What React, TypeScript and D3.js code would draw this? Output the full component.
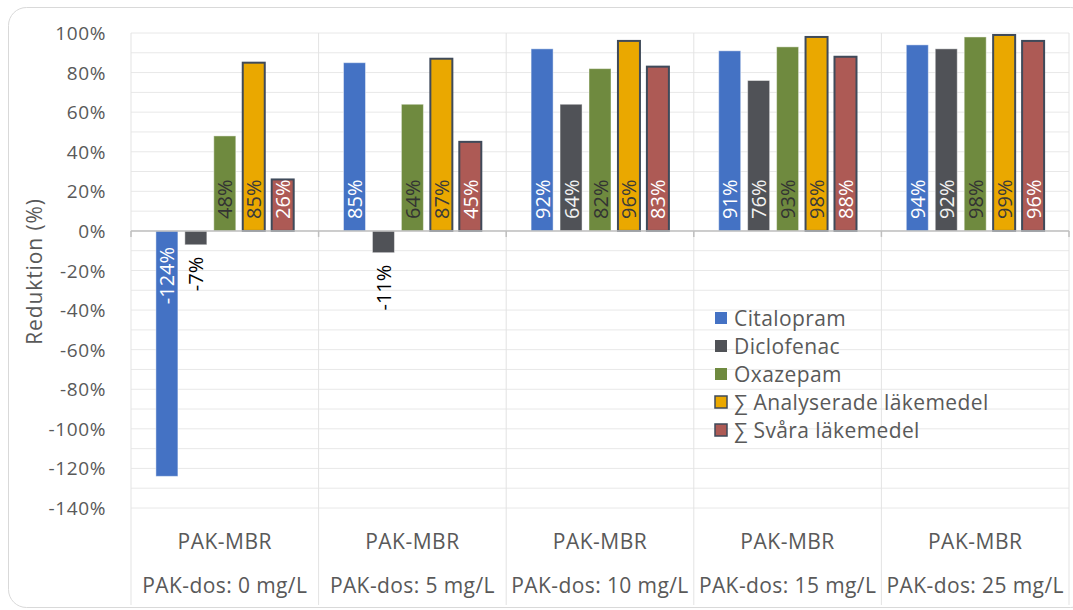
import React from "react";
import * as d3 from "d3";

// Reduction per substance for each PAK dose (percent)
const categories = ["PAK-dos: 0 mg/L", "PAK-dos: 5 mg/L", "PAK-dos: 10 mg/L", "PAK-dos: 15 mg/L", "PAK-dos: 25 mg/L"];
const groupLabel = "PAK-MBR";
const seriesNames = ["Citalopram", "Diclofenac", "Oxazepam", "∑ Analyserade läkemedel", "∑ Svåra läkemedel"];
const citalopram = [-124, 85, 92, 91, 94];
const diclofenac = [-7, -11, 64, 76, 92];
const oxazepam = [48, 64, 82, 93, 98];
const analyserade = [85, 87, 96, 98, 99];
const svara = [26, 45, 83, 88, 96];
const yTicks = [100, 80, 60, 40, 20, 0, -20, -40, -60, -80, -100, -120, -140];

const seriesValues = [citalopram, diclofenac, oxazepam, analyserade, svara];
const fills = ["#4472C4", "#505257", "#6F8A3F", "#EAA800", "#AD5A55"];
const strokes = ["rgba(255,255,255,0.45)", "rgba(255,255,255,0.45)", "rgba(255,255,255,0.45)", "#3F4A5A", "#3F4A5A"];
const strokeW = [1, 1, 1, 2, 2];
const labelColors = ["#ffffff", "#f2f2f2", "#333333", "#3a3a3a", "#ffffff"];

const W = 1073;
const H = 610;
const plot = { left: 131, right: 1069, top: 33, bottom: 508 };
const axisBottom = 605;
const FONT = "'Open Sans', 'Noto Sans', sans-serif";
const TEXT = "#595959";

export default function App() {
  const y = d3.scaleLinear().domain([-140, 100]).range([plot.bottom, plot.top]);
  const x0 = d3.scaleBand<string>().domain(categories).range([plot.left, plot.right]).padding(0);
  const x1 = d3
    .scaleBand<string>()
    .domain(seriesNames)
    .range([0, x0.bandwidth()])
    .paddingInner(0.24)
    .paddingOuter(0.86);
  const y0 = y(0);
  const minorTicks = d3.range(-140, 101, 10);
  const boundaries = [...categories.map((c) => x0(c)!), plot.right];

  return (
    <svg
      width={W}
      height={H}
      style={{ position: "absolute", left: 0, top: 0, background: "#fff" }}
      fontFamily={FONT}
    >
      <rect x={8.5} y={7.5} width={1080} height={600} rx={18} fill="#fff" stroke="#d9d9d9" />

      {/* horizontal gridlines */}
      {minorTicks.map((t) => (
        <line key={"g" + t} x1={plot.left} x2={plot.right} y1={y(t)} y2={y(t)} stroke="#e8e8e8" strokeWidth={1} />
      ))}
      {/* vertical category separators, through plot and category axis */}
      {boundaries.map((bx, i) => (
        <line key={"v" + i} x1={bx} x2={bx} y1={plot.top} y2={axisBottom} stroke="#e3e3e3" strokeWidth={1} />
      ))}

      {/* y tick labels */}
      {yTicks.map((t) => (
        <text
          key={"t" + t}
          x={106}
          y={y(t)}
          textAnchor="end"
          dominantBaseline="central"
          fontSize={19}
          letterSpacing={0.6}
          fill={TEXT}
        >
          {t}%
        </text>
      ))}

      {/* y axis title */}
      <text
        transform={`translate(34,${(plot.top + plot.bottom) / 2 + 1}) rotate(-90)`}
        textAnchor="middle"
        dominantBaseline="central"
        fontSize={21}
        letterSpacing={0.9}
        fill={TEXT}
      >
        Reduktion (%)
      </text>

      {/* bars */}
      {categories.map((c, ci) => (
        <g key={c} transform={`translate(${x0(c)},0)`}>
          {seriesNames.map((s, si) => {
            const v = seriesValues[si][ci];
            const yv = y(v);
            const top = Math.min(yv, y0);
            const h = Math.abs(yv - y0);
            const bx = x1(s)!;
            const bw = x1.bandwidth();
            const cx = bx + bw / 2;
            const label = `${v}%`;
            let anchor: "start" | "end" = "start";
            let ly = y0 - 12;
            let color = labelColors[si];
            if (v < 0) {
              anchor = "end";
              if (h > 45) {
                ly = y0 + 16;
              } else {
                ly = yv + 12;
                color = "#000000";
              }
            }
            return (
              <g key={s}>
                <rect
                  x={bx}
                  y={top}
                  width={bw}
                  height={h}
                  fill={fills[si]}
                  stroke={strokes[si]}
                  strokeWidth={strokeW[si]}
                />
                <text
                  transform={`translate(${cx},${ly}) rotate(-90)`}
                  textAnchor={anchor}
                  dominantBaseline="central"
                  fontSize={20}
                  fill={color}
                >
                  {label}
                </text>
              </g>
            );
          })}
        </g>
      ))}

      {/* zero axis line with ticks at category boundaries */}
      <line x1={plot.left} x2={plot.right} y1={y0} y2={y0} stroke="#bfbfbf" strokeWidth={1.5} />
      {boundaries.map((bx, i) => (
        <line key={"k" + i} x1={bx} x2={bx} y1={y0} y2={y0 + 6} stroke="#bfbfbf" strokeWidth={1.5} />
      ))}

      {/* category labels */}
      {categories.map((c) => {
        const cx = x0(c)! + x0.bandwidth() / 2;
        return (
          <g key={"c" + c}>
            <text
              x={cx}
              y={541}
              textAnchor="middle"
              dominantBaseline="central"
              fontSize={21}
              letterSpacing={0.5}
              fill={TEXT}
            >
              {groupLabel}
            </text>
            <text
              x={cx}
              y={585}
              textAnchor="middle"
              dominantBaseline="central"
              fontSize={21}
              letterSpacing={0.4}
              fill={TEXT}
            >
              {c}
            </text>
          </g>
        );
      })}

      {/* legend */}
      {seriesNames.map((s, si) => {
        const ry = 318 + si * 28;
        return (
          <g key={"l" + s}>
            <rect
              x={715}
              y={ry - 6}
              width={12}
              height={12}
              fill={fills[si]}
              stroke={si >= 3 ? "#3F4A5A" : "none"}
              strokeWidth={si >= 3 ? 1.5 : 0}
            />
            <text x={734} y={ry} dominantBaseline="central" fontSize={21} letterSpacing={0.4} fill={TEXT}>
              {s}
            </text>
          </g>
        );
      })}
    </svg>
  );
}
